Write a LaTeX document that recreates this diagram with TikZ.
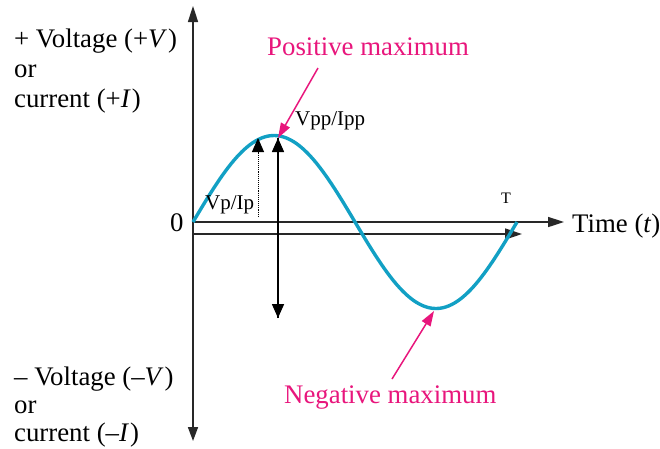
\documentclass[tikz,border=0pt]{standalone}
\usepackage{fontspec}
\setmainfont{Liberation Serif}
\usetikzlibrary{arrows.meta}
\definecolor{wave}{RGB}{18,160,196}
\definecolor{hot}{RGB}{232,22,124}
\definecolor{axis}{RGB}{40,40,40}
\tikzset{
  axisline/.style={draw=axis, line width=1.6pt},
  bigtip/.style={-{Triangle[length=16pt,width=10pt]}},
  fattip/.style={-{Triangle[length=14pt,width=12pt]}},
  hotarrow/.style={draw=hot, line width=1.5pt, -{Triangle[length=15pt,width=10pt]}},
  lbl/.style={anchor=base west, inner sep=0pt, font=\fontsize{26.8}{30}\selectfont},
  hotlbl/.style={lbl, text=hot},
  small/.style={anchor=base west, inner sep=0pt, font=\fontsize{21}{24}\selectfont},
}
\begin{document}
\begin{tikzpicture}[x=1pt,y=-1pt]
\useasboundingbox (0,0) rectangle (660,448);
% coordinates
\coordinate (O) at (193,222);
\coordinate (ytop) at (193,6);
\coordinate (ybot) at (193,441);
\coordinate (xend) at (564,222);
\coordinate (l0) at (193,234);
\coordinate (l1) at (522,234);
\coordinate (pk) at (278,138);
\coordinate (pkb) at (278,318);
\coordinate (dt) at (258,138);
\coordinate (db) at (258,217);
\coordinate (tr) at (434,311);
\coordinate (pa) at (318,68);
\coordinate (na) at (392,379);
% axes
\draw[axisline, bigtip] (O) -- (ytop);
\draw[axisline, -{Triangle[length=14pt,width=10pt]}] (O) -- (ybot);
\draw[axisline, bigtip] (O) -- (xend);
\draw[axisline, -{Triangle[length=17pt,width=11pt]}] (l0) -- (l1);
% wave
\draw[wave, line width=3.4pt] plot[domain=0:324, samples=120] ({193+\x},{222-86.5*sin(\x/324*360)});
% peak-to-peak arrows
\draw[black, line width=1.6pt, fattip] (pkb) -- (pk);
\draw[black, line width=1.6pt, fattip] (pk) -- (pkb);
\draw[black, line width=0.9pt, densely dotted, fattip] (db) -- (dt);
% pink arrows
\draw[hotarrow] (pa) -- (pk);
\draw[hotarrow] (na) -- (tr);
% labels
\node[lbl] (v1) at (14,47) {+ Voltage (+\textit{V}\kern1pt)};
\node[lbl] (v2) at (14,77) {or};
\node[lbl] (v3) at (14,107) {current (+\textit{I}\kern1pt)};
\node[lbl] (w1) at (14,385) {– Voltage (–\textit{V}\kern1pt)};
\node[lbl] (w2) at (14,413) {or};
\node[lbl] (w3) at (14,441) {current (–\textit{I}\kern1pt)};
\node[lbl] (zero) at (170,231) {0};
\node[lbl] (time) at (572,232) {Time (\textit{t})};
\node[hotlbl] (pos) at (267,55) {Positive maximum};
\node[hotlbl] (neg) at (284,403) {Negative maximum};
\node[small] (vpp) at (295,125) {Vpp/Ipp};
\node[small] (vp) at (205,209) {Vp/Ip};
\node[anchor=base west, inner sep=0pt, font=\fontsize{16}{18}\selectfont] (T) at (501,203) {T};
\end{tikzpicture}
\end{document}
